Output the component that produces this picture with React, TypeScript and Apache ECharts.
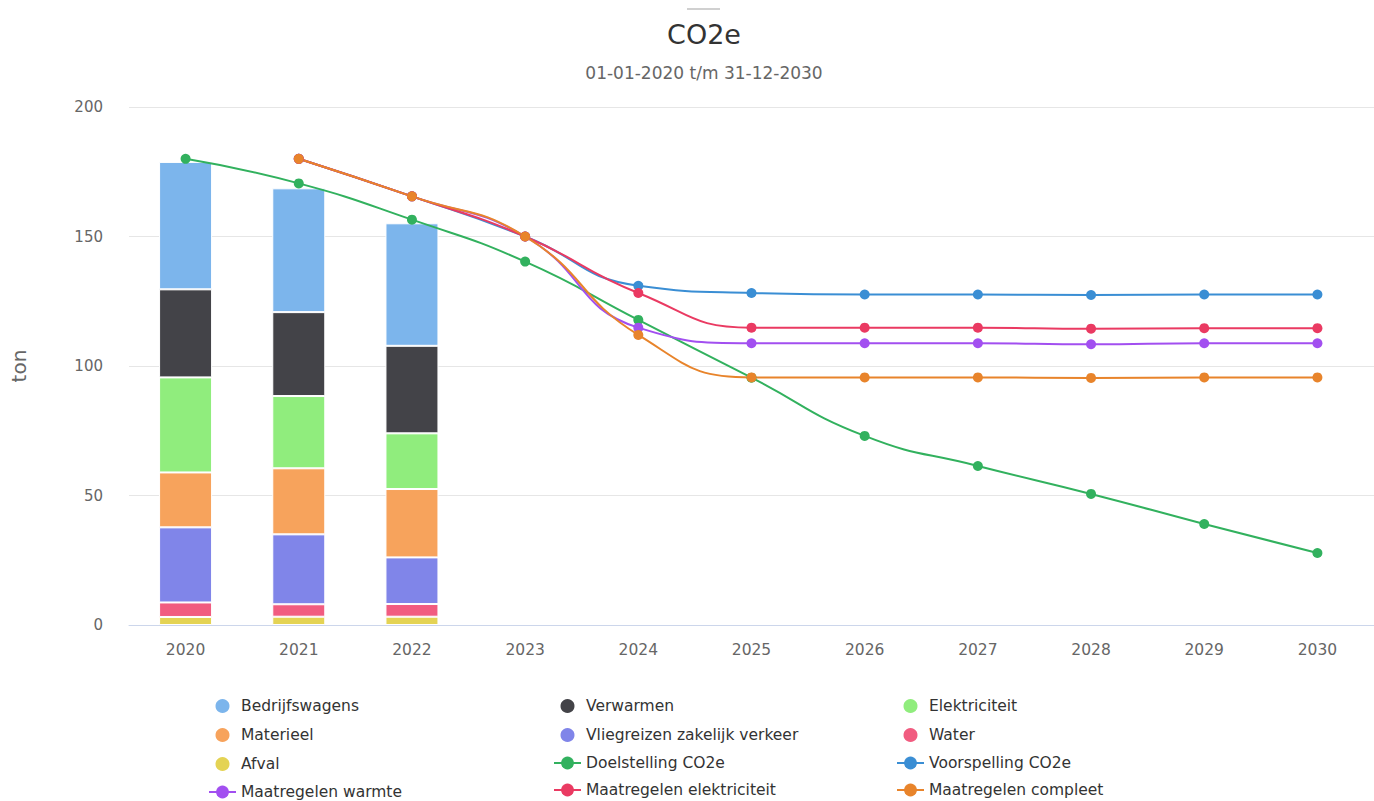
import React, { useEffect, useRef } from "react";
import * as echarts from "echarts";

const years = ["2020", "2021", "2022", "2023", "2024", "2025", "2026", "2027", "2028", "2029", "2030"];
const yTicks = [0, 50, 100, 150, 200];

const bedrijfswagens = [49.2, 47.8, 47.3];
const verwarmen = [34.0, 32.4, 33.8];
const elektriciteit = [36.7, 27.9, 21.5];
const materieel = [21.2, 25.5, 26.4];
const vliegreizen = [29.0, 27.0, 18.0];
const water = [5.6, 4.8, 4.9];
const afval = [3.1, 3.2, 3.2];

const doelstelling = [180, 170.5, 156.5, 140.3, 117.8, 95.5, 73.0, 61.4, 50.6, 39.0, 27.8];
const voorspelling = [null, 180, 165.5, 150, 131.0, 128.2, 127.6, 127.6, 127.4, 127.6, 127.6];
const warmte = [null, 180, 165.5, 150, 114.8, 108.8, 108.8, 108.8, 108.4, 108.8, 108.8];
const elektrMaatregel = [null, 180, 165.5, 150, 128.2, 114.8, 114.8, 114.8, 114.4, 114.6, 114.6];
const compleet = [null, 180, 165.5, 150, 112.0, 95.6, 95.6, 95.6, 95.4, 95.6, 95.6];

const FONT = "'DejaVu Sans', Verdana, sans-serif";

export default function App() {
  const ref = useRef<HTMLDivElement>(null);
  useEffect(() => {
    const chart = echarts.init(ref.current!, null, { renderer: "svg" });
    const bar = (name: string, data: number[], color: string) => ({
      name,
      type: "bar",
      stack: "total",
      data,
      barWidth: 53,
      itemStyle: { color, borderColor: "#fff", borderWidth: 1 },
    });
    const line = (name: string, data: (number | null)[], color: string) => ({
      name,
      type: "line",
      data,
      smooth: true,
      symbol: "circle",
      symbolSize: 10,
      lineStyle: { width: 2, color },
      itemStyle: { color },
    });
    const legendBase = {
      type: "plain",
      orient: "vertical",
      top: 697,
      height: 150,
      itemWidth: 27,
      itemHeight: 16,
      itemGap: 11,
      padding: 0,
      textStyle: { fontSize: 15.5, color: "#333", fontFamily: FONT },
    };
    const circ = (name: string) => ({ name, icon: "circle" });
    chart.setOption({
      animation: false,
      textStyle: { fontFamily: FONT },
      title: {
        text: "CO2e",
        subtext: "01-01-2020 t/m 31-12-2030",
        left: 704,
        textAlign: "center",
        top: 21,
        padding: 0,
        itemGap: 16,
        textStyle: { fontSize: 27, fontWeight: "normal", color: "#333", fontFamily: FONT },
        subtextStyle: { fontSize: 17, color: "#666", fontFamily: FONT },
      },
      graphic: [
        {
          type: "line",
          shape: { x1: 687, y1: 9, x2: 720, y2: 9 },
          style: { stroke: "#d0d0d0", lineWidth: 2 },
        },
      ],
      grid: { left: 129, right: 0, top: 107, bottom: 176 },
      legend: [
        {
          ...legendBase,
          left: 208,
          data: [circ("Bedrijfswagens"), circ("Materieel"), circ("Afval"), { name: "Maatregelen warmte" }],
        },
        {
          ...legendBase,
          left: 553,
          data: [circ("Verwarmen"), circ("Vliegreizen zakelijk verkeer"), { name: "Doelstelling CO2e" }, { name: "Maatregelen elektriciteit" }],
        },
        {
          ...legendBase,
          left: 896,
          data: [circ("Elektriciteit"), circ("Water"), { name: "Voorspelling CO2e" }, { name: "Maatregelen compleet" }],
        },
      ],
      xAxis: {
        type: "category",
        data: years,
        boundaryGap: true,
        axisLine: { lineStyle: { color: "#ccd6eb", width: 1 } },
        axisTick: { show: false },
        axisLabel: { color: "#666", fontSize: 15.5, margin: 17 },
      },
      yAxis: {
        type: "value",
        min: yTicks[0],
        max: yTicks[yTicks.length - 1],
        interval: 50,
        name: "ton",
        nameLocation: "middle",
        nameGap: 100,
        nameTextStyle: { color: "#666", fontSize: 20 },
        axisLine: { show: false },
        axisTick: { show: false },
        axisLabel: { color: "#666", fontSize: 15, margin: 26 },
        splitLine: { lineStyle: { color: "#e6e6e6" } },
      },
      series: [
        bar("Afval", afval, "#e4d354"),
        bar("Water", water, "#f15c80"),
        bar("Vliegreizen zakelijk verkeer", vliegreizen, "#8085e9"),
        bar("Materieel", materieel, "#f7a35c"),
        bar("Elektriciteit", elektriciteit, "#90ed7d"),
        bar("Verwarmen", verwarmen, "#434348"),
        bar("Bedrijfswagens", bedrijfswagens, "#7cb5ec"),
        line("Doelstelling CO2e", doelstelling, "#32b15e"),
        line("Voorspelling CO2e", voorspelling, "#3a8ed4"),
        line("Maatregelen warmte", warmte, "#a24ff0"),
        line("Maatregelen elektriciteit", elektrMaatregel, "#ea3a62"),
        line("Maatregelen compleet", compleet, "#e8842b"),
      ],
    });
    return () => chart.dispose();
  }, []);
  return (
    <div
      ref={ref}
      style={{ position: "fixed", left: 0, top: 0, width: 1374, height: 801, background: "#fff" }}
    />
  );
}
